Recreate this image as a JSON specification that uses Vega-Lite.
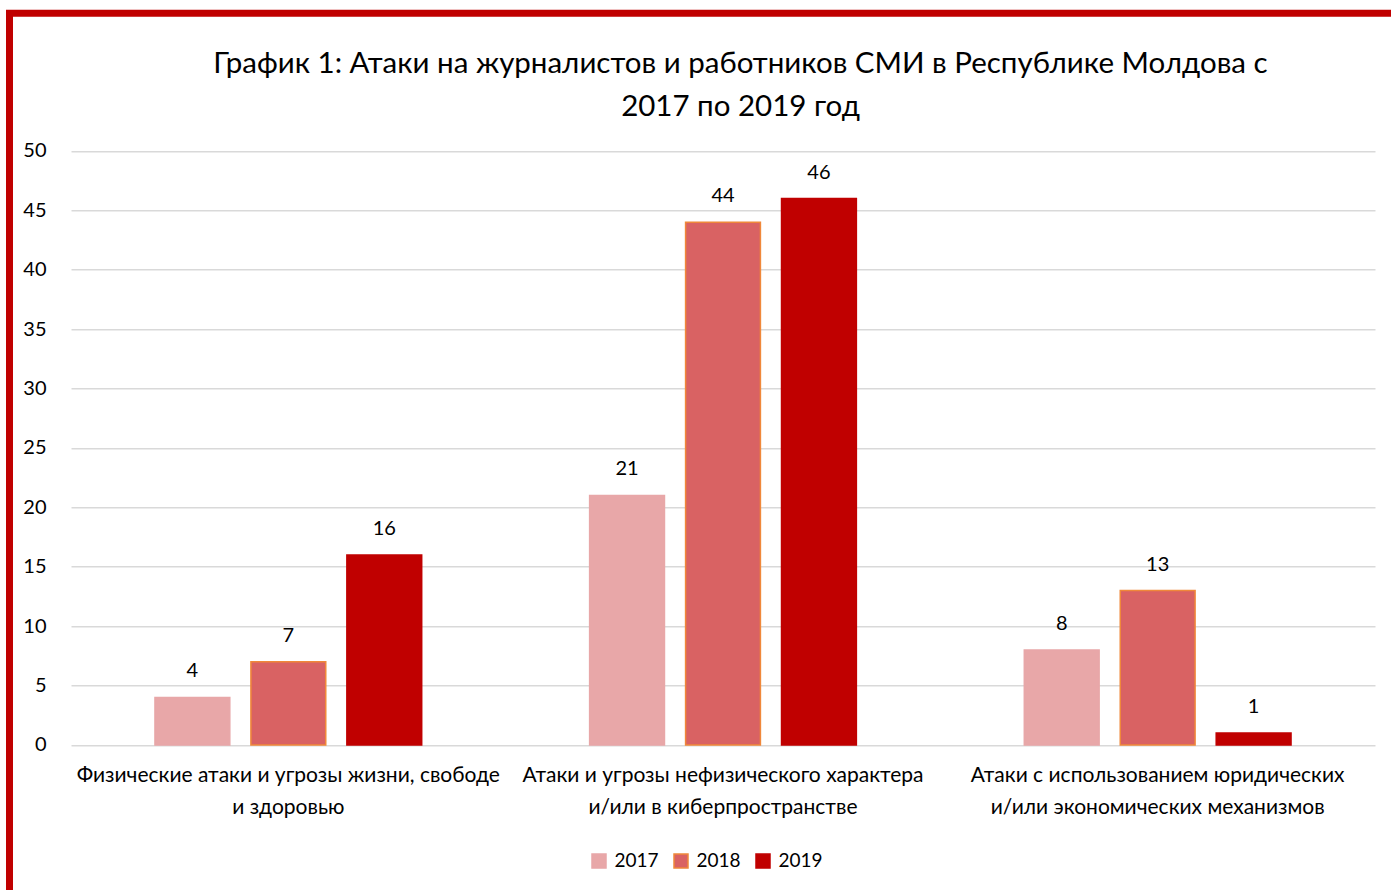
{
  "$schema": "https://vega.github.io/schema/vega-lite/v6.json",
  "width": 1400,
  "height": 900,
  "autosize": {"type": "none"},
  "padding": {"left": 9.5, "top": 13.3, "right": -18.5, "bottom": -23.3},
  "background": "white",
  "config": {
    "view": {"stroke": "#C00000", "strokeWidth": 7},
    "font": "Lato"
  },
  "title": {
    "text": ["График 1: Атаки на журналистов и работников СМИ в Республике Молдова с", "2017 по 2019 год"],
    "fontSize": 29.5,
    "font": "Lato",
    "fontWeight": "normal",
    "color": "#000000",
    "anchor": "middle",
    "dx": 31,
    "dy": 113,
    "lineHeight": 43
  },
  "data": {
    "values": [
      {"category": "Физические атаки и угрозы жизни, свободе и здоровью", "year": "2017", "value": 4},
      {"category": "Физические атаки и угрозы жизни, свободе и здоровью", "year": "2018", "value": 7},
      {"category": "Физические атаки и угрозы жизни, свободе и здоровью", "year": "2019", "value": 16},
      {"category": "Атаки и угрозы нефизического характера и/или в киберпространстве", "year": "2017", "value": 21},
      {"category": "Атаки и угрозы нефизического характера и/или в киберпространстве", "year": "2018", "value": 44},
      {"category": "Атаки и угрозы нефизического характера и/или в киберпространстве", "year": "2019", "value": 46},
      {"category": "Атаки с использованием юридических и/или экономических механизмов", "year": "2017", "value": 8},
      {"category": "Атаки с использованием юридических и/или экономических механизмов", "year": "2018", "value": 13},
      {"category": "Атаки с использованием юридических и/или экономических механизмов", "year": "2019", "value": 1}
    ]
  },
  "encoding": {
    "x": {
      "field": "category",
      "type": "nominal",
      "sort": null,
      "scale": {"range": [61.5, 1365.5], "paddingInner": 0, "paddingOuter": 0},
      "axis": {
        "orient": "bottom",
        "offset": -168.3,
        "domain": false,
        "ticks": false,
        "tickSize": 0,
        "labelPadding": 19,
        "labelFontSize": 21,
        "labelFont": "Lato",
        "labelLineHeight": 32,
        "labelColor": "#000000",
        "labelAngle": 0,
        "labelLimit": 1000,
        "labelOverlap": false,
        "title": null,
        "labelExpr": "[slice(datum.label, 0, lastindexof(datum.label, ' и')), slice(datum.label, lastindexof(datum.label, ' и') + 1)]"
      }
    },
    "xOffset": {
      "field": "year",
      "type": "nominal",
      "scale": {"paddingInner": 0.22, "paddingOuter": 0.875}
    },
    "y": {
      "field": "value",
      "type": "quantitative",
      "scale": {"domain": [-14.17, 61.59], "nice": false, "zero": false},
      "axis": {
        "orient": "left",
        "values": [0, 5, 10, 15, 20, 25, 30, 35, 40, 45, 50],
        "domain": false,
        "ticks": false,
        "tickSize": 0,
        "labelPadding": -36.5,
        "labelAlign": "right",
        "labelFontSize": 20,
        "labelFont": "Lato",
        "labelColor": "#000000",
        "labelOverlap": false,
        "grid": true,
        "gridColor": "#D9D9D9",
        "gridWidth": 1.5,
        "title": null
      }
    }
  },
  "layer": [
    {
      "mark": {"type": "bar", "strokeWidth": 1.5},
      "encoding": {
        "y2": {"datum": 0},
        "fill": {
          "field": "year",
          "type": "nominal",
          "scale": {"domain": ["2017", "2018", "2019"], "range": ["#E8A7A8", "#D96263", "#C00000"]},
          "legend": {
            "title": null,
            "orient": "none",
            "legendX": 580,
            "legendY": 838,
            "direction": "horizontal",
            "symbolType": "square",
            "symbolSize": 196,
            "symbolStrokeWidth": 1.5,
            "labelFontSize": 19,
            "labelFont": "Lato",
            "labelColor": "#000000",
            "labelOffset": 6,
            "columnPadding": 11
          }
        },
        "stroke": {
          "field": "year",
          "type": "nominal",
          "scale": {"domain": ["2017", "2018", "2019"], "range": ["#E8A7A8", "#F0883A", "#C00000"]},
          "legend": {
            "title": null,
            "orient": "none",
            "legendX": 580,
            "legendY": 838,
            "direction": "horizontal",
            "symbolType": "square",
            "symbolSize": 196,
            "symbolStrokeWidth": 1.5,
            "labelFontSize": 19,
            "labelFont": "Lato",
            "labelColor": "#000000",
            "labelOffset": 6,
            "columnPadding": 11
          }
        }
      }
    },
    {
      "mark": {"type": "text", "dy": -20, "baseline": "alphabetic", "fontSize": 20, "font": "Lato", "color": "#000000"},
      "encoding": {
        "text": {"field": "value", "type": "quantitative"}
      }
    }
  ]
}
